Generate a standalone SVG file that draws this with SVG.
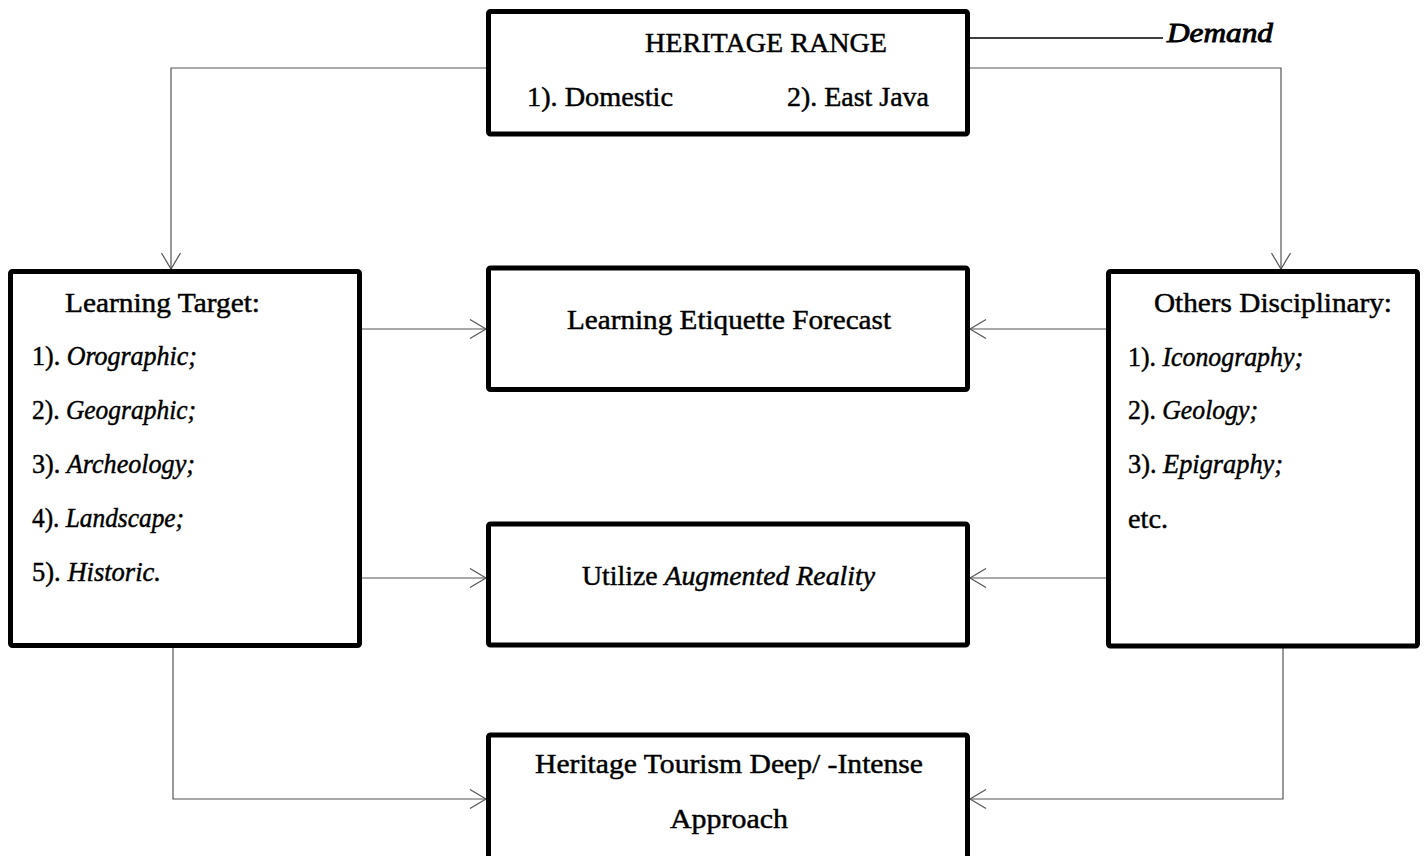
<svg xmlns="http://www.w3.org/2000/svg" width="1424" height="856" viewBox="0 0 1424 856">
<style>
.box{fill:#fff;stroke:#000;stroke-width:5;stroke-linejoin:round}
.t{font-family:"Liberation Serif","Times New Roman",serif;font-size:27px;fill:#000;stroke:#000;stroke-width:0.45}
.i{font-style:italic}
.c{fill:none;stroke:#555;stroke-width:1.2}
</style>
<defs>
<marker id="arr" markerUnits="userSpaceOnUse" markerWidth="24" markerHeight="24" viewBox="-20 -12 24 24" refX="0" refY="0" orient="auto">
<path d="M-16,-9.5 L0,0 L-16,9.5" fill="none" stroke="#555" stroke-width="1.2"/>
</marker>
</defs>
<rect width="1424" height="856" fill="#fff"/>
<g id="connectors">
<polyline class="c" points="486,68 171,68 171,269" marker-end="url(#arr)"/>
<polyline class="c" points="970,68 1281,68 1281,269" marker-end="url(#arr)"/>
<line x1="970" y1="38" x2="1163" y2="38" stroke="#000" stroke-width="1.6"/>
<line class="c" x1="362" y1="329" x2="486" y2="329" marker-end="url(#arr)"/>
<line class="c" x1="1106" y1="329" x2="970" y2="329" marker-end="url(#arr)"/>
<line class="c" x1="362" y1="578" x2="486" y2="578" marker-end="url(#arr)"/>
<line class="c" x1="1106" y1="578" x2="970" y2="578" marker-end="url(#arr)"/>
<polyline class="c" points="173,648 173,799 486,799" marker-end="url(#arr)"/>
<polyline class="c" points="1283,648 1283,799 970,799" marker-end="url(#arr)"/>
</g>
<g id="demand">
<text class="t i" x="1167" y="42" textLength="106" lengthAdjust="spacingAndGlyphs" style="stroke-width:0.9">Demand</text>
</g>
<g id="heritage-range">
<rect class="box" x="488.5" y="11.5" width="479" height="122.5" rx="2"/>
<text class="t" x="645" y="52" textLength="242" lengthAdjust="spacingAndGlyphs">HERITAGE RANGE</text>
<text class="t" x="527" y="106" textLength="146" lengthAdjust="spacingAndGlyphs">1). Domestic</text>
<text class="t" x="787" y="106" textLength="142" lengthAdjust="spacingAndGlyphs">2). East Java</text>
</g>
<g id="learning-target">
<rect class="box" x="10.5" y="271.5" width="349" height="374" rx="2"/>
<text class="t" x="65" y="312" textLength="195" lengthAdjust="spacingAndGlyphs">Learning Target:</text>
<text class="t" x="32" y="365" textLength="165" lengthAdjust="spacingAndGlyphs">1). <tspan class="i">Orographic;</tspan></text>
<text class="t" x="32" y="419" textLength="164" lengthAdjust="spacingAndGlyphs">2). <tspan class="i">Geographic;</tspan></text>
<text class="t" x="32" y="473" textLength="163" lengthAdjust="spacingAndGlyphs">3). <tspan class="i">Archeology;</tspan></text>
<text class="t" x="32" y="527" textLength="152" lengthAdjust="spacingAndGlyphs">4). <tspan class="i">Landscape;</tspan></text>
<text class="t" x="32" y="581" textLength="129" lengthAdjust="spacingAndGlyphs">5). <tspan class="i">Historic.</tspan></text>
</g>
<g id="others-disciplinary">
<rect class="box" x="1108.5" y="271.5" width="309" height="374.5" rx="2"/>
<text class="t" x="1154" y="312" textLength="238" lengthAdjust="spacingAndGlyphs">Others Disciplinary:</text>
<text class="t" x="1128" y="366" textLength="175" lengthAdjust="spacingAndGlyphs">1). <tspan class="i">Iconography;</tspan></text>
<text class="t" x="1128" y="419" textLength="130" lengthAdjust="spacingAndGlyphs">2). <tspan class="i">Geology;</tspan></text>
<text class="t" x="1128" y="473" textLength="155" lengthAdjust="spacingAndGlyphs">3). <tspan class="i">Epigraphy;</tspan></text>
<text class="t" x="1128" y="528" textLength="40" lengthAdjust="spacingAndGlyphs">etc.</text>
</g>
<g id="learning-etiquette-forecast">
<rect class="box" x="488.5" y="268" width="479" height="121.5" rx="2"/>
<text class="t" x="567" y="329" textLength="324" lengthAdjust="spacingAndGlyphs">Learning Etiquette Forecast</text>
</g>
<g id="utilize-ar">
<rect class="box" x="488.5" y="524" width="479" height="121" rx="2"/>
<text class="t" x="582" y="585" textLength="293" lengthAdjust="spacingAndGlyphs">Utilize <tspan class="i">Augmented Reality</tspan></text>
</g>
<g id="heritage-tourism">
<rect class="box" x="488.5" y="735" width="479" height="140" rx="2"/>
<text class="t" x="535" y="773" textLength="388" lengthAdjust="spacingAndGlyphs">Heritage Tourism Deep/ -Intense</text>
<text class="t" x="670" y="828" textLength="118" lengthAdjust="spacingAndGlyphs">Approach</text>
</g>
</svg>
